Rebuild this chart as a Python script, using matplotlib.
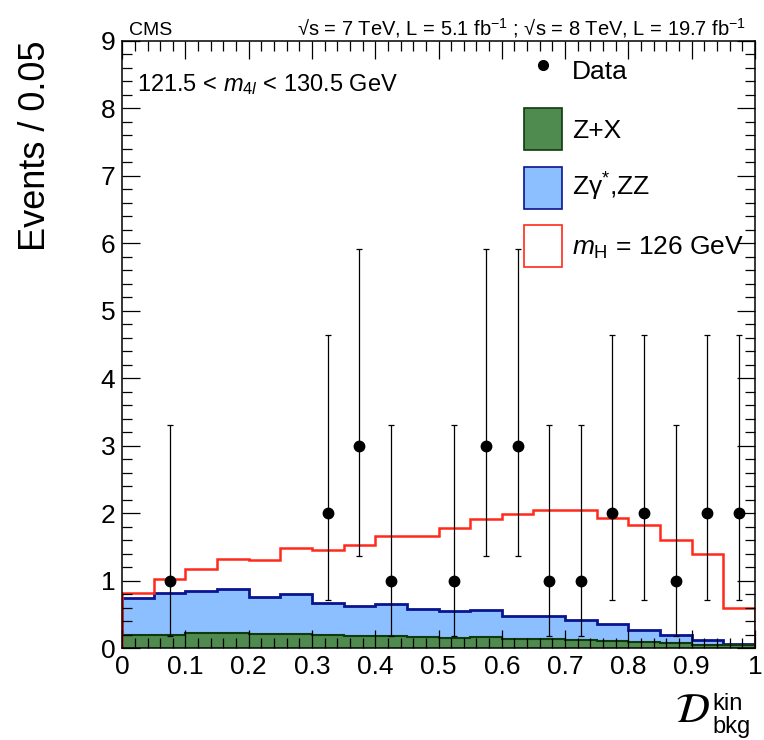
import numpy as np
import matplotlib
matplotlib.use('Agg')
import matplotlib.pyplot as plt
from matplotlib.patches import Patch
from matplotlib.lines import Line2D
from matplotlib.ticker import MultipleLocator

plt.rcParams['font.family'] = ['Liberation Sans', 'DejaVu Sans']
plt.rcParams['mathtext.fontset'] = 'custom'
plt.rcParams['mathtext.rm'] = 'Liberation Sans'
plt.rcParams['mathtext.it'] = 'Liberation Sans:italic'
plt.rcParams['mathtext.bf'] = 'Liberation Sans:bold'

# histogram bins (width 0.05)
bin_edges = np.linspace(0, 1, 21)

# stacked heights
zx = [0.20, 0.19, 0.22, 0.22, 0.21, 0.21, 0.19, 0.18, 0.18, 0.17,
      0.15, 0.16, 0.14, 0.13, 0.12, 0.10, 0.09, 0.07, 0.05, 0.04]
bkg_total = [0.74, 0.81, 0.85, 0.87, 0.75, 0.80, 0.67, 0.62, 0.65, 0.58,
             0.55, 0.57, 0.48, 0.47, 0.41, 0.35, 0.27, 0.19, 0.12, 0.055]
sig_total = [0.81, 1.02, 1.17, 1.32, 1.30, 1.48, 1.45, 1.53, 1.66, 1.66,
             1.78, 1.92, 1.98, 2.04, 2.05, 1.93, 1.83, 1.60, 1.40, 0.60]

# data points (bin centres, counts, Poisson errors)
data_x = [0.075, 0.325, 0.375, 0.425, 0.525, 0.575, 0.625, 0.675, 0.725,
          0.775, 0.825, 0.875, 0.925, 0.975]
data_n = [1, 2, 3, 1, 1, 3, 3, 1, 1, 2, 2, 1, 2, 2]
err_lo_by_n = {1: 0.827, 2: 1.292, 3: 1.633}
err_hi_by_n = {1: 2.300, 2: 2.638, 3: 2.918}

green = '#4f8a4f'
green_edge = '#0e3a0e'
blue = '#8cbfff'
blue_edge = '#0a1490'
red = '#ff2a1a'

fig = plt.figure(figsize=(7.64, 7.40), dpi=100)
ax = fig.add_axes([0.16, 0.1243, 0.828, 0.8203])

ax.stairs(bkg_total, bin_edges, fill=True, facecolor=blue, edgecolor='none')
ax.stairs(bkg_total, bin_edges, color=blue_edge, lw=2)
ax.stairs(zx, bin_edges, fill=True, facecolor=green, edgecolor='none')
ax.stairs(zx, bin_edges, color=green_edge, lw=1.5)
ax.stairs(sig_total, bin_edges, color=red, lw=1.8)

lo = [err_lo_by_n[n] for n in data_n]
hi = [err_hi_by_n[n] for n in data_n]
ax.errorbar(data_x, data_n, yerr=[lo, hi], fmt='o', color='black',
            ms=7.5, lw=0.9, capsize=2.5, capthick=0.9, zorder=5)

ax.set_xlim(0, 1)
ax.set_ylim(0, 9)
ax.xaxis.set_minor_locator(MultipleLocator(0.02))
ax.yaxis.set_major_locator(MultipleLocator(1))
ax.yaxis.set_minor_locator(MultipleLocator(0.2))
ax.set_xticks(np.arange(0, 1.01, 0.1))
ax.set_xticklabels(['0', '0.1', '0.2', '0.3', '0.4', '0.5', '0.6', '0.7',
                    '0.8', '0.9', '1'])
ax.tick_params(which='both', direction='in', top=True, right=True,
               labelsize=19, width=0.9, pad=5)
ax.tick_params(which='major', length=13)
ax.tick_params(which='minor', length=7)
ax.set_axisbelow(False)
for s in ax.spines.values():
    s.set_linewidth(1.1)

ax.set_ylabel('Events / 0.05', fontsize=26, loc='top')
ax.yaxis.set_label_coords(-0.11, 1.0)

# x-axis title: calligraphic D with kin / bkg
fig.text(0.929, 0.024, r'$\mathcal{D}$', fontsize=30, math_fontfamily='stix',
         ha='right', va='baseline')
fig.text(0.932, 0.041, 'kin', fontsize=17, ha='left', va='baseline')
fig.text(0.932, 0.0095, 'bkg', fontsize=17, ha='left', va='baseline')

ax.text(0.024, 0.929, r'121.5 < $m_{4l}$ < 130.5 GeV', transform=ax.transAxes,
        fontsize=17, va='center', ha='left')
ax.text(0.01, 1.0099, 'CMS', transform=ax.transAxes, fontsize=14,
        va='baseline', ha='left')
ax.text(0.987, 1.0099,
        r'√s = 7 TeV, L = 5.1 fb$^{-1}$ ; √s = 8 TeV, L = 19.7 fb$^{-1}$',
        transform=ax.transAxes, fontsize=14.5, va='baseline', ha='right')

handles = [
    Line2D([], [], marker='o', ls='none', color='black', ms=7),
    Patch(facecolor=green, edgecolor=green_edge, lw=1.2),
    Patch(facecolor=blue, edgecolor=blue_edge, lw=1.2),
    Patch(facecolor='white', edgecolor=red, lw=1.2),
]
labels = ['Data', 'Z+X', 'Zγ$^{*}$,ZZ', r'$m_{\mathrm{H}}$ = 126 GeV']
ax.legend(handles, labels, loc='upper left', bbox_to_anchor=(0.635, 0.985),
          frameon=False, fontsize=19, handlelength=1.44, handleheight=2.07,
          labelspacing=0.62, handletextpad=0.38, borderpad=0, borderaxespad=0)

fig.savefig('out.png', dpi=100)
